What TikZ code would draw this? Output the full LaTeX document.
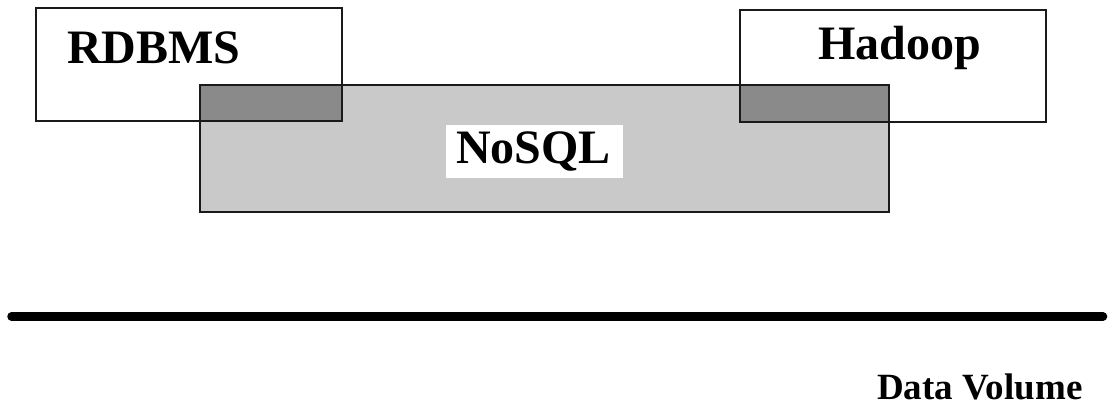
\documentclass[tikz,border=0pt]{standalone}
\usepackage{fontspec}
\setmainfont{Liberation Serif}
\usetikzlibrary{positioning}
\definecolor{nosqlgray}{HTML}{C9C9C9}
\definecolor{overlapgray}{HTML}{8A8A8A}
\definecolor{edgegray}{HTML}{1A1A1A}
\tikzset{
  boxline/.style={draw=edgegray, line width=1.4pt},
  bigtext/.style={font=\bfseries\fontsize{48}{56}\selectfont, inner sep=0pt, anchor=base west},
  axislabel/.style={font=\bfseries\fontsize{37}{44}\selectfont, inner sep=0pt, anchor=base west},
}
\begin{document}
\begin{tikzpicture}[x=1pt,y=-1pt]
\useasboundingbox (0,0) rectangle (1114,406);
% box corners
\coordinate (nA) at (200,85);
\coordinate (nB) at (889,212);
\coordinate (rA) at (36,8);
\coordinate (rB) at (342,121);
\coordinate (hA) at (740,10);
\coordinate (hB) at (1046,122);
\fill[nosqlgray] (nA) rectangle (nB);
% overlaps
\fill[overlapgray] (nA) rectangle (rB);
\fill[overlapgray] (740,85) rectangle (889,122);
% outlines
\draw[boxline] (rA) rectangle (rB);
\draw[boxline] (hA) rectangle (hB);
\draw[boxline] (nA) rectangle (nB);
% NoSQL label white background
\fill[white] (446,125) rectangle (623,178);
\node[bigtext] (rdbms) at (67,64) {RDBMS};
\node[bigtext] (hadoop) at (818,60) {Hadoop};
\node[bigtext] (nosql) at (456,164) {NoSQL};
% axis
\coordinate (axL) at (11.5,316.5);
\coordinate (axR) at (1103,316.5);
\draw[line width=8.5pt, line cap=round] (axL) -- (axR);
\node[axislabel] (dv) at (877,399) {Data Volume};
\end{tikzpicture}
\end{document}
